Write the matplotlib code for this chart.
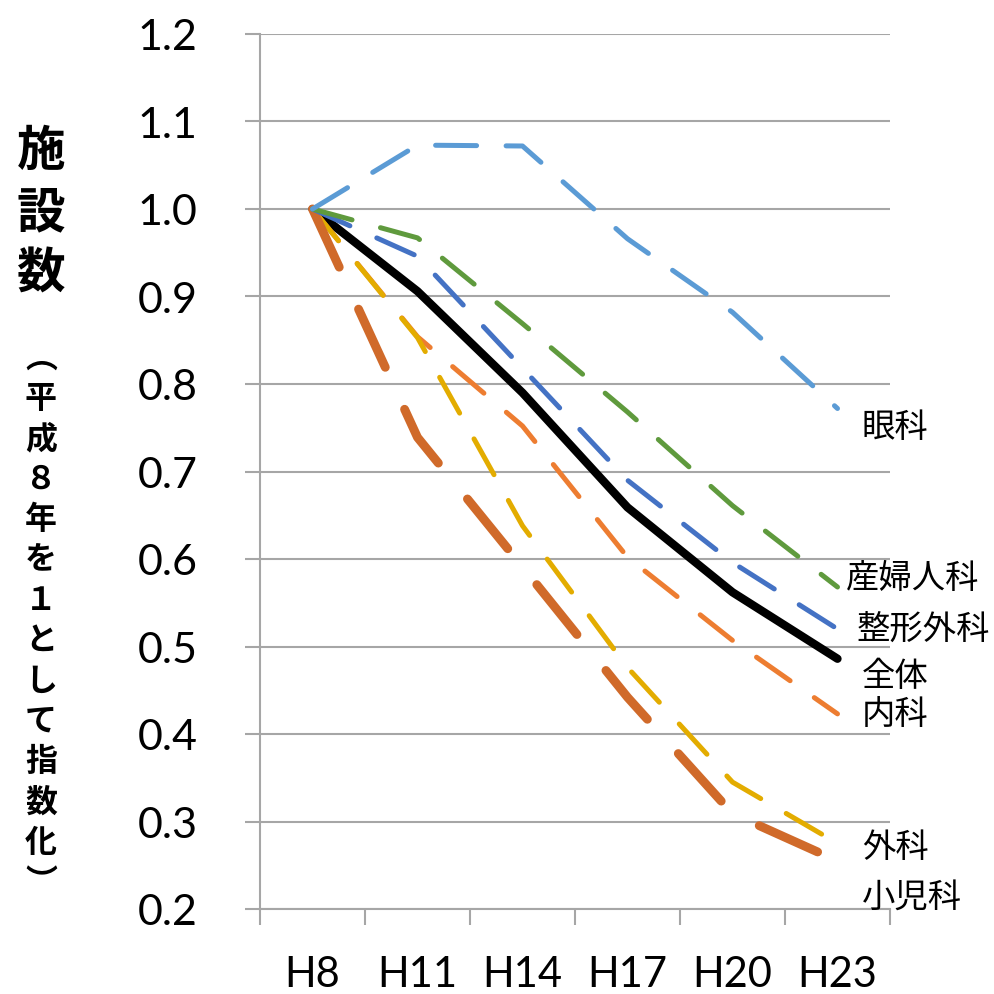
import matplotlib
matplotlib.use("Agg")
import matplotlib.pyplot as plt
from matplotlib.ticker import FixedLocator

# 施設数（平成8年を1として指数化）
categories = ["H8", "H11", "H14", "H17", "H20", "H23"]
zentai = [1.0, 0.906, 0.790, 0.659, 0.562, 0.486]
sanfujinka = [1.0, 0.967, 0.869, 0.768, 0.661, 0.568]
seikei = [1.0, 0.946, 0.818, 0.690, 0.596, 0.520]
ganka = [1.0, 1.073, 1.072, 0.966, 0.882, 0.772]
naika = [1.0, 0.854, 0.752, 0.602, 0.507, 0.423]
geka = [1.0, 0.853, 0.638, 0.476, 0.345, 0.275]
shonika = [1.0, 0.739, 0.591, 0.442, 0.309, 0.255]

jp = ["Noto Sans CJK JP", "DejaVu Sans"]
grid_col = "#A6A6A6"


def main():
    fig = plt.figure(figsize=(9.95, 9.95), dpi=100)
    ax = fig.add_axes([260 / 995, 85 / 995, 630 / 995, 875 / 995])

    x = range(len(categories))
    thin = 3.6
    thin_dash = (8.2, 5.9)
    # (values, color, linewidth, dash pattern or None for solid)
    series = [
        (zentai, "#000000", 6.0, None),
        (naika, "#ED7D31", thin, thin_dash),
        (geka, "#E3AC00", thin, thin_dash),
        (shonika, "#D06A2A", 6.4, (7.2, 5.2)),
        (seikei, "#4472C4", thin, thin_dash),
        (sanfujinka, "#5F9A3D", thin, thin_dash),
        (ganka, "#5B9BD5", thin, thin_dash),
    ]
    for vals, col, lw, dash in series:
        if dash is None:
            ax.plot(x, vals, color=col, lw=lw, solid_capstyle="round",
                    solid_joinstyle="round", zorder=3)
        else:
            ax.plot(x, vals, color=col, lw=lw, dashes=dash,
                    dash_capstyle="round", dash_joinstyle="round", zorder=3)

    ax.set_xlim(-0.5, 5.5)
    ax.set_ylim(0.2, 1.2)

    ax.set_yticks([0.2 + 0.1 * i for i in range(11)])
    ax.set_yticklabels([f"{0.2 + 0.1 * i:.1f}" for i in range(11)],
                       fontsize=31, family="Lato")
    ax.set_xticks(list(x))
    ax.set_xticklabels(categories, fontsize=30, family="Lato")
    ax.xaxis.set_minor_locator(FixedLocator([i - 0.5 for i in range(7)]))

    ax.tick_params(axis="y", length=11, width=1.5, color=grid_col, pad=34)
    ax.tick_params(axis="x", which="major", length=0, pad=33)
    ax.tick_params(axis="x", which="minor", length=11.5, width=1.5,
                   color=grid_col)

    ax.grid(axis="y", color=grid_col, lw=1.5)
    ax.set_axisbelow(True)
    for s in ["top", "right"]:
        ax.spines[s].set_visible(False)
    for s in ["left", "bottom"]:
        ax.spines[s].set_color(grid_col)
        ax.spines[s].set_linewidth(1.5)

    # series labels at the right end
    labels = [
        ("眼科", 5.233, 0.751),
        ("産婦人科", 5.080, 0.579),
        ("整形外科", 5.180, 0.521),
        ("全体", 5.233, 0.467),
        ("内科", 5.233, 0.423),
        ("外科", 5.233, 0.271),
        ("小児科", 5.233, 0.215),
    ]
    for txt, lx, ly in labels:
        ax.text(lx, ly, txt, fontsize=24, family=jp, ha="left", va="center",
                clip_on=False)

    # vertical axis title
    for i, ch in enumerate("施設数"):
        fig.text(41 / 995, 1 - (152 + 61 * i) / 995, ch, fontsize=35,
                 family=jp, weight="bold", ha="center", va="center")
    sub = "︵平成８年を１として指数化︶"
    for i, ch in enumerate(sub):
        fig.text(41 / 995, 1 - (359 + 40.3 * i) / 995, ch, fontsize=23,
                 family=jp, weight="bold", ha="center", va="center")

    fig.savefig("out.png", dpi=100, facecolor="white")


if __name__ == "__main__":
    main()
